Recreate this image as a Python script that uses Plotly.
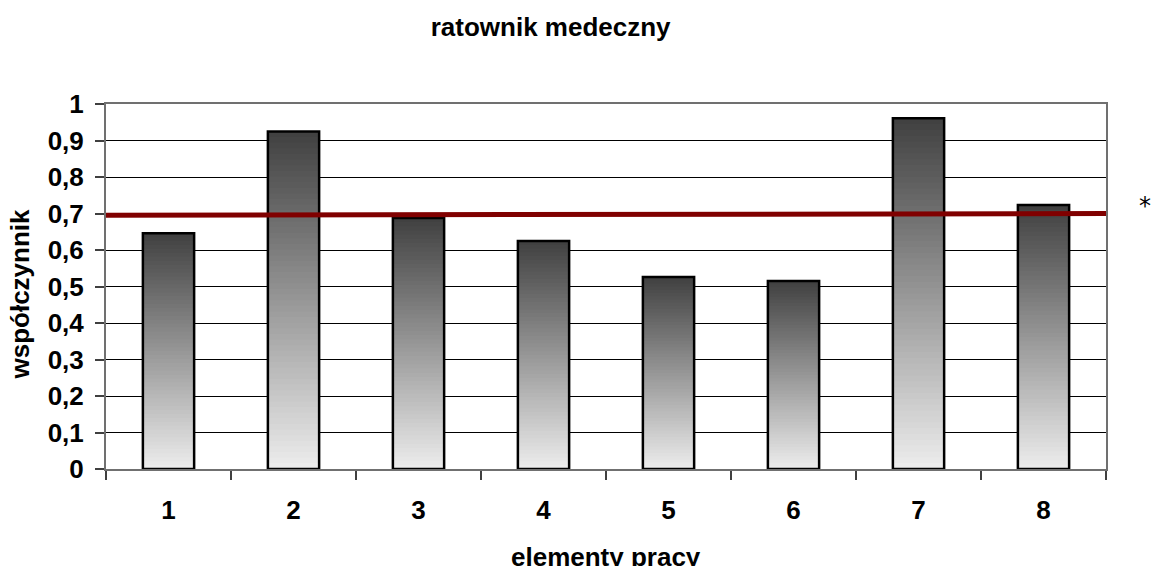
import plotly.graph_objects as go

# ---- data ----
categories = [1, 2, 3, 4, 5, 6, 7, 8]
category_labels = ["1", "2", "3", "4", "5", "6", "7", "8"]
values = [0.646, 0.925, 0.688, 0.625, 0.526, 0.515, 0.961, 0.723]
reference_line = [0.695, 0.700]
y_tick_values = [0, 0.1, 0.2, 0.3, 0.4, 0.5, 0.6, 0.7, 0.8, 0.9, 1.0]
y_tick_labels = ["0", "0,1", "0,2", "0,3", "0,4", "0,5", "0,6", "0,7", "0,8", "0,9", "1"]
title_text = "ratownik medeczny"
x_title = "elementy pracy"
y_title = "współczynnik"
note_text = "*"

FONT = "Liberation Sans, Arial, sans-serif"
FS = 26
N_SEG = 60
BAR_W = 0.41
TOP_GRAY = 64
BOTTOM_GRAY = 237

fig = go.Figure()

# gradient fill: nested bars from full height (dark) to shortest (light),
# each relative to its own bar height
for k in range(N_SEG):
    frac_top = (N_SEG - k) / N_SEG
    f = (N_SEG - k - 0.5) / N_SEG
    g = int(round(BOTTOM_GRAY - f * (BOTTOM_GRAY - TOP_GRAY)))
    fig.add_trace(go.Bar(
        x=categories,
        y=[v * frac_top for v in values],
        width=BAR_W,
        marker=dict(color=f"rgb({g},{g},{g})", line=dict(width=0)),
        hoverinfo="skip",
        showlegend=False,
    ))

# outline
fig.add_trace(go.Bar(
    x=categories, y=values, width=BAR_W,
    marker=dict(color="rgba(0,0,0,0)", line=dict(color="black", width=2.5)),
    showlegend=False,
))

# reference line across the whole plot
line_x = [categories[0] - 0.5, categories[-1] + 0.5]
fig.add_trace(go.Scatter(
    x=line_x, y=reference_line, mode="lines",
    line=dict(color="#800000", width=5),
    showlegend=False, cliponaxis=False,
))

fig.update_layout(
    width=1152, height=566,
    margin=dict(l=106, r=46, t=104, b=97),
    paper_bgcolor="white", plot_bgcolor="white",
    barmode="overlay",
    showlegend=False,
    font=dict(family=FONT, color="black"),
    title=dict(text=f"<b>{title_text}</b>", x=0.478, xanchor="center",
               y=0.953, yanchor="middle", yref="container",
               font=dict(size=FS, family=FONT, color="black")),
    xaxis=dict(
        range=[categories[0] - 0.5, categories[-1] + 0.5],
        tickmode="array", tickvals=categories,
        ticktext=[f"<b>{t}</b>" for t in category_labels],
        ticks="", ticklabelstandoff=17,
        tickfont=dict(size=FS, family=FONT, color="black"),
        showgrid=False, zeroline=False,
        showline=True, linecolor="#707070", linewidth=2, mirror=True,
        minor=dict(tickmode="array",
                   tickvals=[c - 0.5 for c in categories] + [categories[-1] + 0.5],
                   ticks="outside", ticklen=9, tickcolor="#404040", tickwidth=1.5,
                   showgrid=False),
    ),
    yaxis=dict(
        range=[0, 1], tickmode="array", tickvals=y_tick_values,
        ticktext=[f"<b>{t}</b>" for t in y_tick_labels],
        ticks="outside", ticklen=9, tickcolor="#404040", tickwidth=1.5,
        ticklabelstandoff=6,
        tickfont=dict(size=FS, family=FONT, color="black"),
        showgrid=True, gridcolor="black", gridwidth=1,
        zeroline=False,
        showline=True, linecolor="#707070", linewidth=2, mirror=True,
    ),
    annotations=[
        dict(text=f"<b>{x_title}</b>", xref="paper", yref="paper",
             x=0.5, y=-0.241, xanchor="center", yanchor="middle",
             showarrow=False, font=dict(size=FS, family=FONT, color="black")),
        dict(text=f"<b>{y_title}</b>", xref="paper", yref="paper",
             x=-0.086, y=0.478, xanchor="center", yanchor="middle", textangle=-90,
             showarrow=False, font=dict(size=FS, family=FONT, color="black")),
        dict(text=note_text, xref="paper", yref="paper",
             x=1.039, y=0.72, xanchor="center", yanchor="middle",
             showarrow=False, font=dict(size=24, family="DejaVu Sans, sans-serif", color="black")),
    ],
)

fig.write_html("out.html", config={"displayModeBar": False},
               post_script="document.body.style.margin='0px';")
